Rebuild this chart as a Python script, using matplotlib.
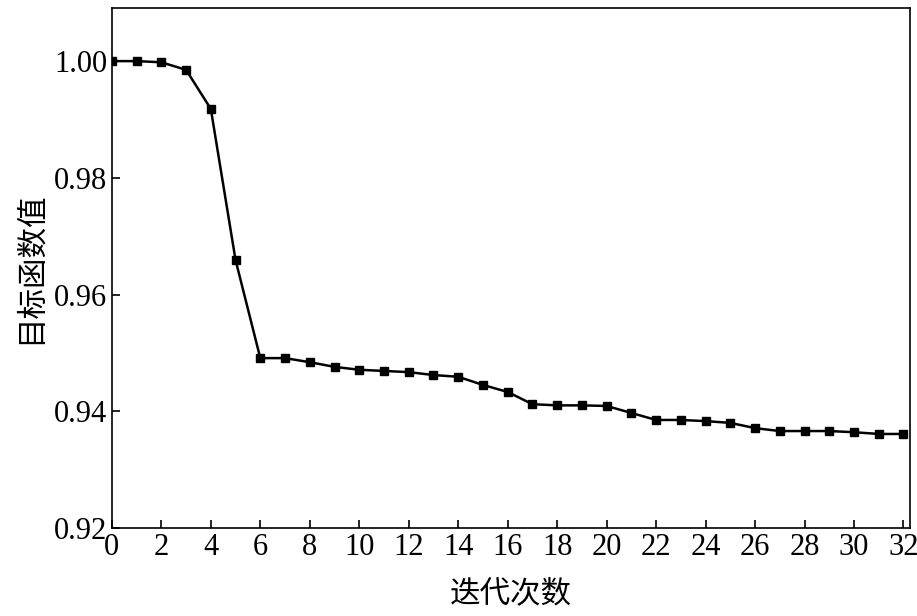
import matplotlib
matplotlib.use("Agg")
import matplotlib.pyplot as plt

iterations = list(range(33))
values = [1.000, 1.000, 0.9998, 0.9985, 0.9918, 0.9659, 0.9491, 0.9491, 0.9484, 0.9476,
          0.9471, 0.9469, 0.9467, 0.9462, 0.9459, 0.9445, 0.9433, 0.9412, 0.9410, 0.9410,
          0.9409, 0.9397, 0.9385, 0.9385, 0.9383, 0.9380, 0.9371, 0.9366, 0.9366, 0.9366,
          0.9364, 0.9361, 0.9361]
xticks = list(range(0, 33, 2))
yticks = [0.92, 0.94, 0.96, 0.98, 1.00]

plt.rcParams['font.family'] = ['Liberation Serif', 'Noto Sans CJK SC']
fig = plt.figure(figsize=(9.17, 6.16), dpi=100)
ax = fig.add_axes([0.122, 0.143, 0.870, 0.844])
ax.plot(iterations, values, color='black', lw=1.8, marker='s', ms=6)
ax.set_xlim(0, 32.25)
ax.set_ylim(0.92, 1.0091)
ax.set_xticks(xticks)
ax.set_yticks(yticks)
ax.set_yticklabels([f"{v:.2f}" for v in yticks])
ax.tick_params(direction='in', labelsize=22, length=6, width=1.2)
for s in ax.spines.values():
    s.set_linewidth(1.2)
ax.set_xlabel('迭代次数', fontsize=22, family=['Noto Sans CJK SC'], labelpad=12)
ax.set_ylabel('目标函数值', fontsize=22, family=['Noto Sans CJK SC'], labelpad=6)
fig.savefig('out.png', dpi=100)
